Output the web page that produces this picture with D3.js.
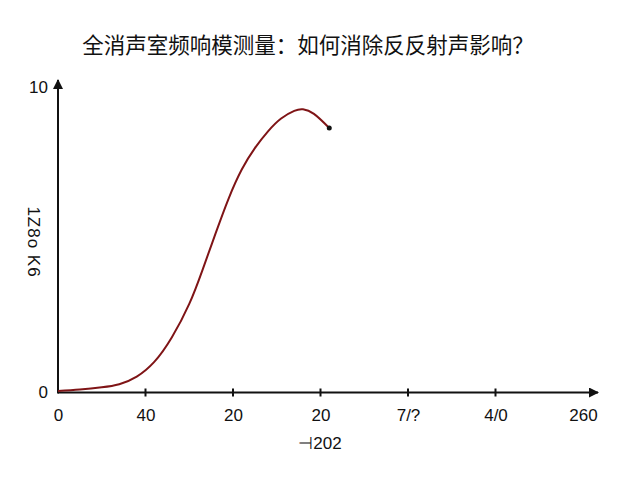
<!DOCTYPE html>
<html>
<head>
<meta charset="utf-8">
<script src="https://cdn.jsdelivr.net/npm/d3@7"></script>
<style>
  body { margin: 0; background: #fff; }
  svg { display: block; }
</style>
</head>
<body>
<svg id="chart" width="640" height="480"></svg>
<script>
// curve
const freq = [0, 10, 20, 28, 36, 44, 52, 60, 66, 72, 78, 84, 90, 96, 102, 108, 112, 117, 124];
const level = [0.05, 0.1, 0.17, 0.27, 0.52, 1.0, 1.8, 2.9, 4.0, 5.2, 6.35, 7.3, 8.0, 8.55, 8.97, 9.22, 9.27, 9.12, 8.66];
const xTicks = [0, 40, 80, 120, 160, 200, 240];
const xTickLabels = ["0", "40", "20", "20", "7/?", "4/0", "260"];
const yTicks = [0, 10];

const title = "全消声室频响模测量：如何消除反反射声影响？";
const xTitle = "⊣202";
const yTitle = "1Z8o K6";

const svg = d3.select("#chart");
const margin = { top: 87, right: 57, bottom: 87, left: 58 };
const width = 640 - margin.left - margin.right;
const height = 480 - margin.top - margin.bottom;

const x = d3.scaleLinear().domain([0, 240]).range([margin.left, margin.left + width]);
const y = d3.scaleLinear().domain([0, 10]).range([margin.top + height - 0.5, margin.top]);

svg.append("defs").append("marker")
  .attr("id", "arrow")
  .attr("viewBox", "0 0 10 10")
  .attr("refX", 9).attr("refY", 5)
  .attr("markerWidth", 5).attr("markerHeight", 5)
  .attr("orient", "auto")
  .append("path")
  .attr("d", "M0,0L10,5L0,10Z")
  .attr("fill", "#111");

svg.append("text")
  .attr("x", 308).attr("y", 53)
  .attr("text-anchor", "middle")
  .style("font-family", "'Noto Sans CJK SC', sans-serif")
  .style("font-size", "21.5px")
  .attr("fill", "#111")
  .text(title);

const y0 = y(0);

// axis lines with arrow heads
svg.append("line")
  .attr("x1", x(0)).attr("y1", y0)
  .attr("x2", 598).attr("y2", y0)
  .attr("stroke", "#111").attr("stroke-width", 2)
  .attr("marker-end", "url(#arrow)");
svg.append("line")
  .attr("x1", x(0)).attr("y1", y0 + 1)
  .attr("x2", x(0)).attr("y2", 80)
  .attr("stroke", "#111").attr("stroke-width", 2)
  .attr("marker-end", "url(#arrow)");

// tick marks
svg.selectAll(".tickmark")
  .data(xTicks.slice(1, -1))
  .join("line")
  .attr("class", "tickmark")
  .attr("x1", (d) => x(d)).attr("x2", (d) => x(d))
  .attr("y1", y0 - 4).attr("y2", y0 + 4)
  .attr("stroke", "#111").attr("stroke-width", 2);

const xAxis = d3.axisBottom(x)
  .tickValues(xTicks)
  .tickSize(0)
  .tickPadding(16)
  .tickFormat((d, i) => xTickLabels[i]);

svg.append("g")
  .attr("transform", `translate(0,${y0})`)
  .call(xAxis)
  .call((g) => g.select(".domain").remove())
  .call((g) => g.selectAll("text")
    .style("font-family", "'Liberation Sans', Arial, sans-serif")
    .style("font-size", "17px")
    .attr("fill", "#111"));

const yAxis = d3.axisLeft(y)
  .tickValues(yTicks)
  .tickSize(0)
  .tickPadding(10)
  .tickFormat(d3.format("d"));

svg.append("g")
  .attr("transform", `translate(${x(0)},0)`)
  .call(yAxis)
  .call((g) => g.select(".domain").remove())
  .call((g) => g.selectAll("text")
    .style("font-family", "'Liberation Sans', Arial, sans-serif")
    .style("font-size", "17px")
    .attr("fill", "#111"));

svg.append("text")
  .attr("x", 320).attr("y", 449)
  .attr("text-anchor", "middle")
  .style("font-family", "'Liberation Sans', Arial, sans-serif")
  .style("font-size", "17px")
  .attr("fill", "#111")
  .text(xTitle);

svg.append("text")
  .attr("transform", "translate(28,242) rotate(90)")
  .attr("text-anchor", "middle")
  .style("font-family", "'Liberation Sans', Arial, sans-serif")
  .style("font-size", "17px")
  .style("letter-spacing", "1px")
  .attr("fill", "#111")
  .text(yTitle);

const pts = freq.map((f, i) => [f, level[i]]);

const line = d3.line()
  .x((d) => x(d[0]))
  .y((d) => y(d[1]))
  .curve(d3.curveNatural);

svg.append("path")
  .datum(pts)
  .attr("d", line)
  .attr("fill", "none")
  .attr("stroke", "#7f1416")
  .attr("stroke-width", 2);

const last = pts[pts.length - 1];
svg.append("circle")
  .attr("cx", x(last[0]))
  .attr("cy", y(last[1]))
  .attr("r", 2.5)
  .attr("fill", "#111");
</script>
</body>
</html>
